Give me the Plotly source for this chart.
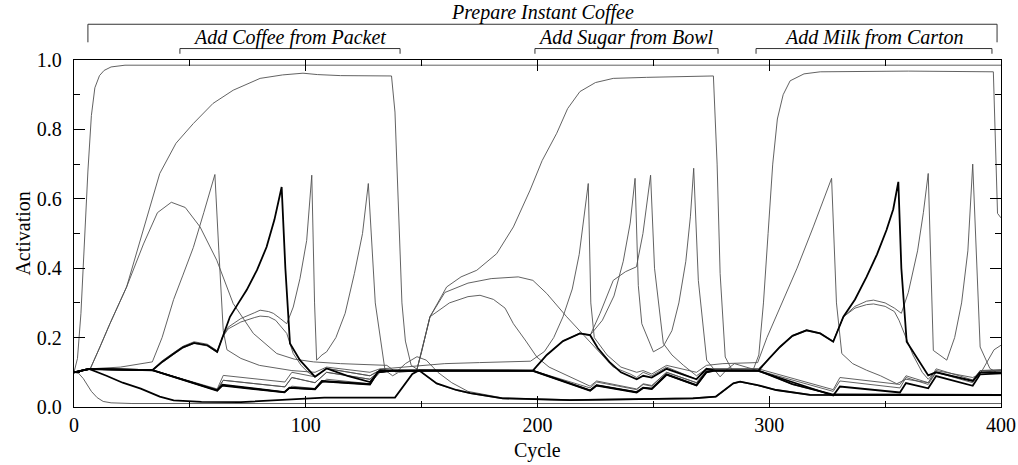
import plotly.graph_objects as go

# ---------------- data ----------------
prepare_x = [0, 1.5, 3, 4.5, 6, 7.5, 9, 11, 13, 16, 22, 400]
prepare_y = [0.1, 0.14, 0.27, 0.48, 0.68, 0.84, 0.92, 0.955, 0.97, 0.98, 0.985, 0.985]

decay_x = [0, 2, 4, 5.5, 7.5, 10, 12.6, 16, 25, 400]
decay_y = [0.1, 0.097, 0.082, 0.067, 0.045, 0.027, 0.016, 0.012, 0.01, 0.01]

coffee_x = [0, 7, 11, 15.5, 22.7, 29.9, 37, 44, 51.5, 60, 68.7, 80.3, 90, 98.8, 105, 115, 137, 138.5,
            140, 141.5, 143, 145.5, 149, 156.5, 165, 171, 185, 214, 267, 277, 284.5, 287.4, 295, 303, 317.6, 400]
coffee_y = [0.1, 0.11, 0.17, 0.24, 0.346, 0.51, 0.673, 0.76, 0.817, 0.875, 0.913, 0.947, 0.957, 0.962, 0.958,
            0.955, 0.954, 0.85, 0.55, 0.3, 0.19, 0.12, 0.105, 0.067, 0.048, 0.039, 0.024, 0.019, 0.024, 0.029,
            0.067, 0.072, 0.062, 0.048, 0.034, 0.033]

hump1_x = [0, 7, 11, 15.5, 22.7, 30, 36, 42, 48, 54.4, 61.6, 68.7, 77.4, 87.5, 95, 103.3, 115, 135, 139, 143,
           148, 152, 157, 163, 170, 185, 214, 267, 277, 284.5, 287.4, 303, 317.6, 400]
hump1_y = [0.1, 0.11, 0.17, 0.24, 0.346, 0.47, 0.56, 0.59, 0.575, 0.519, 0.423, 0.298, 0.212, 0.154, 0.138,
           0.13, 0.125, 0.12, 0.1, 0.125, 0.145, 0.135, 0.1, 0.07, 0.045, 0.026, 0.021, 0.026, 0.031, 0.069,
           0.074, 0.05, 0.036, 0.035]

sugar_x = [0, 6.5, 33.8, 61.8, 64.4, 91, 94, 104, 109, 127.7, 132, 137, 147.9, 150, 153.6, 160.8, 167, 173.8,
           182.4, 189.6, 196.8, 202, 208.3, 213, 218.3, 225, 232.7, 247.1, 260, 275.9, 277.5, 278.8, 281, 284,
           295.3, 310, 327.6, 400]
sugar_y = [0.1, 0.108, 0.106, 0.05, 0.077, 0.058, 0.085, 0.07, 0.1, 0.08, 0.105, 0.105, 0.106, 0.16, 0.26,
           0.346, 0.375, 0.394, 0.442, 0.519, 0.625, 0.71, 0.789, 0.86, 0.909, 0.935, 0.947, 0.95, 0.952, 0.954,
           0.7, 0.385, 0.144, 0.106, 0.105, 0.065, 0.035, 0.034]

humpA_x = [0, 6.5, 33.8, 61.8, 64.4, 91, 94, 104, 109, 127.7, 132, 137, 147.9, 150, 153.6, 160, 170, 180,
           191.7, 198, 204, 212.6, 222, 228, 232.7, 240, 242.8, 245.6, 249.3, 255.7, 268.6, 272.9, 295.3, 327.6,
           330.5, 356.4, 359, 368.6, 372, 387.8, 391, 400]
humpA_y = [0.1, 0.108, 0.106, 0.052, 0.091, 0.072, 0.1, 0.087, 0.111, 0.09, 0.106, 0.106, 0.106, 0.16, 0.26,
           0.33, 0.357, 0.37, 0.375, 0.365, 0.327, 0.26, 0.192, 0.15, 0.115, 0.095, 0.085, 0.1, 0.09, 0.115,
           0.08, 0.11, 0.11, 0.05, 0.085, 0.065, 0.09, 0.07, 0.11, 0.078, 0.105, 0.108]

humpB_x = [0, 6.5, 33.8, 61.8, 64.4, 91, 94, 104, 109, 127.7, 132, 137, 147.9, 150, 153.6, 162, 170, 175.2,
           181, 186, 189.6, 195, 199.7, 205, 211.1, 222.7, 225.5, 242.8, 245.6, 249.3, 255.7, 268.6, 272.9,
           295.3, 327.6, 330.5, 356.4, 359, 368.6, 372, 387.8, 391, 400]
humpB_y = [0.1, 0.108, 0.106, 0.048, 0.062, 0.043, 0.06, 0.053, 0.08, 0.067, 0.1, 0.105, 0.106, 0.16, 0.26,
           0.3, 0.318, 0.322, 0.31, 0.285, 0.24, 0.19, 0.144, 0.115, 0.096, 0.06, 0.075, 0.052, 0.067, 0.062,
           0.1, 0.07, 0.105, 0.105, 0.045, 0.075, 0.055, 0.085, 0.065, 0.1, 0.07, 0.1, 0.105]

milk_x = [0, 6.5, 33.8, 61.8, 64.4, 91, 94, 104, 109, 127.7, 132, 137, 149, 198, 222.7, 225.5, 242.8, 245.6,
          249.3, 255.7, 268.6, 272.9, 276, 293, 295.5, 297.5, 299.5, 301.5, 303.5, 306, 309, 315, 322, 360,
          396.7, 397.5, 398.5, 400]
milk_y = [0.1, 0.108, 0.106, 0.05, 0.077, 0.058, 0.085, 0.07, 0.1, 0.08, 0.105, 0.105, 0.105, 0.105, 0.055,
          0.072, 0.05, 0.065, 0.06, 0.1, 0.07, 0.105, 0.106, 0.106, 0.15, 0.3, 0.5, 0.7, 0.83, 0.9, 0.94, 0.96,
          0.966, 0.968, 0.966, 0.75, 0.558, 0.545]

act1_x = [0, 7, 20, 33.8, 38, 43, 47, 51.5, 56, 60.8, 62.5, 64.4, 66, 72, 80, 90, 94, 104, 109, 127.7, 132,
          137, 148, 160, 175, 197, 203, 207, 211, 215, 218, 221.9, 223, 224.5, 230, 236, 242.8, 245.6, 249.3,
          255.7, 268.6, 272.9, 280, 295, 299, 304.6, 312, 319, 323, 326.9, 329, 331.3, 336, 342, 348, 355, 359,
          368.6, 372, 387.8, 391, 400]
act1_y = [0.1, 0.11, 0.115, 0.13, 0.2, 0.31, 0.38, 0.46, 0.56, 0.67, 0.45, 0.22, 0.165, 0.14, 0.12, 0.11,
          0.105, 0.1, 0.115, 0.1, 0.11, 0.112, 0.118, 0.125, 0.128, 0.132, 0.16, 0.2, 0.26, 0.34, 0.44, 0.644,
          0.3, 0.2, 0.15, 0.115, 0.1, 0.105, 0.095, 0.12, 0.1, 0.12, 0.125, 0.128, 0.2, 0.288, 0.4, 0.519, 0.59,
          0.659, 0.3, 0.154, 0.125, 0.106, 0.09, 0.067, 0.08, 0.07, 0.1, 0.075, 0.105, 0.105]

act2_x = [0, 6.5, 33.8, 38, 43.1, 47, 51.8, 57.5, 61.8, 64, 66.5, 72, 78, 80.3, 84, 86, 89, 91.8, 94.6, 97.5,
          100.4, 102.6, 103.8, 104.7, 107, 109, 113, 117, 121, 124.5, 127, 130, 134.2, 137.5, 140, 149, 198,
          204, 211, 218.3, 222.7, 228, 233, 237, 240, 242.1, 243.5, 245, 250, 254.3, 258, 261, 264, 266, 267.4,
          269.4, 273, 278.8, 282, 285, 290, 295.3, 300, 304.6, 310, 316.1, 322, 327.6, 332, 337, 342, 345, 350,
          354, 357, 360, 364, 366.5, 368.6, 370.8, 376.6, 380, 383, 385.7, 387.8, 391, 395.2, 398, 400]
act2_y = [0.1, 0.11, 0.107, 0.133, 0.157, 0.175, 0.188, 0.181, 0.162, 0.2, 0.23, 0.255, 0.272, 0.279, 0.275,
          0.27, 0.255, 0.24, 0.288, 0.37, 0.48, 0.668, 0.3, 0.135, 0.15, 0.159, 0.2, 0.27, 0.385, 0.5, 0.644,
          0.3, 0.106, 0.09, 0.1, 0.105, 0.105, 0.15, 0.19, 0.213, 0.207, 0.25, 0.32, 0.42, 0.53, 0.659, 0.35,
          0.24, 0.159, 0.175, 0.22, 0.3, 0.42, 0.55, 0.688, 0.365, 0.135, 0.087, 0.11, 0.125, 0.115, 0.105, 0.14,
          0.174, 0.206, 0.222, 0.213, 0.19, 0.26, 0.29, 0.305, 0.308, 0.3, 0.285, 0.27, 0.33, 0.45, 0.56, 0.673,
          0.163, 0.135, 0.2, 0.3, 0.45, 0.7, 0.173, 0.111, 0.1, 0.1]

act3_x = [0, 6.5, 33.8, 38, 43.1, 47, 51.8, 57.5, 61.8, 64, 66.5, 72, 78, 80.3, 84, 87, 91.8, 94.6, 98, 101,
          104, 109, 127.7, 132, 137, 149, 198, 204, 211, 218.3, 222.7, 227, 232.7, 238, 242.7, 245.5, 248.8,
          250.5, 254.3, 258, 263, 268.6, 272.9, 295.3, 300, 304.6, 310, 316.1, 322, 327.6, 332, 337, 342, 345,
          350, 354, 356, 359, 362, 366, 368.6, 372, 387.8, 391, 394, 397, 400]
act3_y = [0.1, 0.11, 0.105, 0.128, 0.152, 0.17, 0.183, 0.176, 0.157, 0.2, 0.225, 0.245, 0.258, 0.262, 0.26,
          0.25, 0.212, 0.154, 0.12, 0.1, 0.087, 0.111, 0.09, 0.106, 0.106, 0.105, 0.105, 0.15, 0.19, 0.211,
          0.206, 0.27, 0.365, 0.39, 0.404, 0.5, 0.668, 0.4, 0.183, 0.15, 0.12, 0.09, 0.11, 0.11, 0.14, 0.172,
          0.204, 0.22, 0.211, 0.188, 0.26, 0.285, 0.295, 0.297, 0.29, 0.275, 0.25, 0.2, 0.15, 0.1, 0.08, 0.105,
          0.085, 0.095, 0.13, 0.165, 0.178]

objP_x = [0, 6.5, 33.8, 38, 43.1, 47, 51.8, 57.5, 61.8, 64, 67.3, 71, 74.5, 79, 83.1, 86.5, 89.6, 91.2, 93.2,
          97.5, 104, 109, 118, 127.7, 132, 137, 149, 156.5, 165, 171, 185, 214, 267, 277, 284.5, 287.4, 295,
          303, 317.6, 400]
objP_y = [0.1, 0.11, 0.106, 0.13, 0.154, 0.172, 0.185, 0.178, 0.159, 0.2, 0.26, 0.3, 0.337, 0.395, 0.461,
          0.54, 0.634, 0.4, 0.183, 0.135, 0.087, 0.111, 0.09, 0.072, 0.106, 0.105, 0.105, 0.068, 0.049, 0.04,
          0.025, 0.02, 0.025, 0.03, 0.068, 0.073, 0.063, 0.049, 0.035, 0.034]

objS_x = [0, 6.5, 14, 21, 28.8, 37, 43, 55, 72, 90, 108, 138.5, 142, 146, 149, 198, 204, 211, 218.3, 222.7,
          226, 231, 236, 242.8, 245.6, 249.3, 255.7, 268.6, 272.9, 276, 295.3, 310, 327.6, 400]
objS_y = [0.1, 0.11, 0.09, 0.07, 0.053, 0.03, 0.019, 0.015, 0.014, 0.02, 0.027, 0.027, 0.06, 0.095, 0.106,
          0.105, 0.15, 0.19, 0.212, 0.207, 0.17, 0.13, 0.1, 0.08, 0.09, 0.085, 0.11, 0.08, 0.11, 0.106, 0.105,
          0.066, 0.036, 0.035]

objM_x = [0, 6.5, 33.8, 61.8, 64, 90.8, 93, 104, 107, 127.7, 131, 137, 149, 198, 222.7, 225.5, 242.8, 245.6,
          249.3, 255.7, 268.6, 272.9, 276, 295.3, 300, 304.6, 310, 316.1, 322, 327.6, 332, 337, 342, 346.5,
          350.6, 353.5, 355.7, 357, 359.3, 364, 368.6, 372, 387.8, 391, 400]
objM_y = [0.1, 0.11, 0.106, 0.048, 0.064, 0.043, 0.056, 0.052, 0.075, 0.066, 0.1, 0.105, 0.105, 0.105, 0.048,
          0.063, 0.043, 0.056, 0.053, 0.094, 0.063, 0.101, 0.105, 0.105, 0.14, 0.173, 0.205, 0.221, 0.212,
          0.188, 0.26, 0.31, 0.375, 0.44, 0.51, 0.57, 0.649, 0.4, 0.188, 0.14, 0.091, 0.1, 0.075, 0.1, 0.1]

base_x = [0, 6.5, 33.8, 61.8, 64, 90.8, 93, 104, 107, 127.7, 131, 137, 149, 198, 222.7, 225.5, 242.8, 245.6,
          249.3, 255.7, 268.6, 272.9, 276, 295.3, 327.6, 330.5, 356.4, 359, 368.6, 372, 387.8, 391, 400]
base_y = [0.1, 0.11, 0.106, 0.047, 0.062, 0.042, 0.055, 0.051, 0.074, 0.065, 0.1, 0.104, 0.104, 0.104, 0.047,
          0.062, 0.042, 0.055, 0.052, 0.093, 0.062, 0.1, 0.104, 0.104, 0.033, 0.059, 0.042, 0.069, 0.054, 0.089,
          0.061, 0.094, 0.097]

# bracket annotations (schema labels) above the plot
bracket_labels = ["Prepare Instant Coffee", "Add Coffee from Packet", "Add Sugar from Bowl", "Add Milk from Carton"]
bracket_start = [6.0, 45.7, 198.9, 294.3]
bracket_end = [398.3, 140.7, 277.9, 396.1]
bracket_level = [0, 1, 1, 1]

x_ticks = [0, 100, 200, 300, 400]
y_ticks = [0.0, 0.2, 0.4, 0.6, 0.8, 1.0]

# ---------------- figure ----------------
thin = [(prepare_x, prepare_y), (decay_x, decay_y), (coffee_x, coffee_y), (hump1_x, hump1_y),
        (sugar_x, sugar_y), (humpA_x, humpA_y), (humpB_x, humpB_y), (milk_x, milk_y),
        (act1_x, act1_y), (act2_x, act2_y), (act3_x, act3_y)]
thick = [(objP_x, objP_y), (objS_x, objS_y), (objM_x, objM_y), (base_x, base_y)]

fig = go.Figure()
for xs, ys in thin:
    fig.add_trace(go.Scatter(x=xs, y=ys, mode="lines", line=dict(color="#505050", width=0.9),
                             hoverinfo="skip", showlegend=False))
for xs, ys in thick:
    fig.add_trace(go.Scatter(x=xs, y=ys, mode="lines", line=dict(color="black", width=1.8),
                             hoverinfo="skip", showlegend=False))

SERIF = "Liberation Serif"
levels_y = {0: (1.103, 1.051, 1.136), 1: (1.033, 1.018, 1.064)}
for lab, s, e, lv in zip(bracket_labels, bracket_start, bracket_end, bracket_level):
    yb, yt, ytext = levels_y[lv]
    fig.add_shape(type="path", xref="x", yref="paper",
                  path=f"M {s},{yt} L {s},{yb} L {e},{yb} L {e},{yt}",
                  line=dict(color="#333333", width=1))
    fig.add_annotation(x=(s + e) / 2, y=ytext, xref="x", yref="paper", text=f"<i>{lab}</i>",
                       showarrow=False, font=dict(family=SERIF, size=20, color="black"),
                       xanchor="center", yanchor="middle")

# axis titles as annotations for exact placement
fig.add_annotation(x=0.5, y=-0.125, xref="paper", yref="paper", text="Cycle", showarrow=False,
                   font=dict(family=SERIF, size=20, color="black"), xanchor="center", yanchor="middle")
fig.add_annotation(x=-0.056, y=0.5, xref="paper", yref="paper", text="Activation", showarrow=False,
                   textangle=-90, font=dict(family=SERIF, size=20, color="black"),
                   xanchor="center", yanchor="middle")

fig.update_layout(
    width=1018, height=465,
    margin=dict(l=74, r=17, t=60, b=58, autoexpand=False),
    paper_bgcolor="white", plot_bgcolor="white",
    font=dict(family=SERIF, size=20, color="black"),
)
fig.update_xaxes(range=[0, 400], tickvals=x_ticks, ticks="inside", ticklen=11, tickwidth=1,
                 tickcolor="black", showline=True, linecolor="black", linewidth=1.3, mirror="allticks",
                 showgrid=False, zeroline=False, automargin=False,
                 tickfont=dict(family=SERIF, size=20),
                 minor=dict(dtick=50, ticklen=6, ticks="inside", tickcolor="black"))
fig.update_yaxes(range=[0, 1], tickvals=y_ticks, ticktext=[f"{v:.1f}" for v in y_ticks], ticks="inside",
                 ticklen=11, tickwidth=1, tickcolor="black", showline=True, linecolor="black", linewidth=1.3,
                 mirror="allticks", showgrid=False, zeroline=False, automargin=False,
                 tickfont=dict(family=SERIF, size=20), ticklabelstandoff=7,
                 minor=dict(dtick=0.1, ticklen=6, ticks="inside", tickcolor="black"))

# remove the default 8px page margin so the 1018x465 figure fills the window exactly
fig.write_html("out.html", config={"displayModeBar": False},
               post_script="document.documentElement.style.overflow='hidden';"
                           "document.body.style.margin='0';document.body.style.overflow='hidden';")
